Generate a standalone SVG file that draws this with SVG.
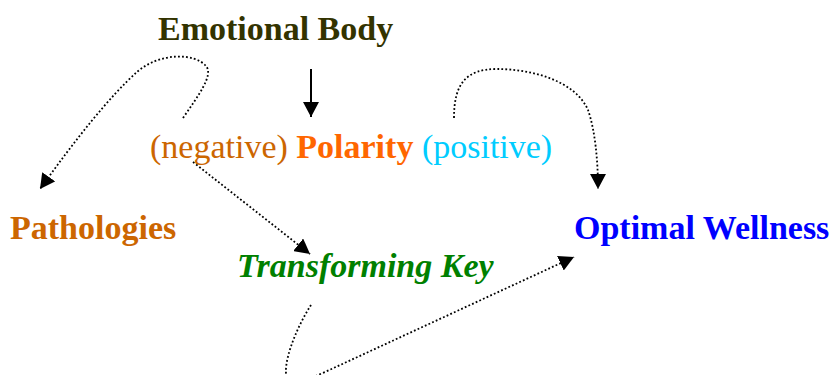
<svg xmlns="http://www.w3.org/2000/svg" width="834" height="375" viewBox="0 0 834 375">
<style>
text{font-family:"Liberation Serif","Times New Roman",serif;font-size:34px}
.b{font-weight:bold}
.dot{fill:none;stroke:#000;stroke-width:1.8;stroke-dasharray:1.8 2.2}
.sol{fill:none;stroke:#000;stroke-width:2}
</style>
<defs>
<marker id="ah" markerUnits="userSpaceOnUse" markerWidth="16" markerHeight="16" viewBox="0 0 16 16" refX="15" refY="8" orient="auto">
<path d="M0,0 L15,8 L0,16 z" fill="#000"/>
</marker>
</defs>
<g id="emotional-body"><text x="158" y="40" class="b" fill="#333300" font-size="35">Emotional Body</text></g>
<g id="polarity"><text x="150" y="158" font-size="35"><tspan fill="#CC6600">(negative) </tspan><tspan class="b" fill="#FF6600">Polarity</tspan><tspan fill="#00CCFF"> (positive)</tspan></text></g>
<g id="pathologies"><text x="10" y="239" class="b" fill="#CC6600" font-size="34.4">Pathologies</text></g>
<g id="optimal-wellness"><text x="574" y="239" class="b" fill="#0000FF" font-size="33.8">Optimal Wellness</text></g>
<g id="transforming-key"><text x="237" y="277" class="b" font-style="italic" fill="#008000" font-size="34.5">Transforming Key</text></g>
<g id="connectors">
<path class="sol" d="M311,69 L311,117" marker-end="url(#ah)"/>
<path class="dot" d="M183,118 C198,96 214,75 206,66 C195,53 160,52 137,72 C110,96 75,140 40,189" marker-end="url(#ah)"/>
<path class="dot" d="M193,162 L310,254" marker-end="url(#ah)"/>
<path class="dot" d="M454,118 C454,85 465,69 497,69 C530,69 575,80 588,110 C595,130 598,160 598,189" marker-end="url(#ah)"/>
<path class="dot" d="M311,305 C295,330 282,365 287,378 C292,392 305,380 325,372 L574,257" marker-end="url(#ah)"/>
</g>
</svg>
